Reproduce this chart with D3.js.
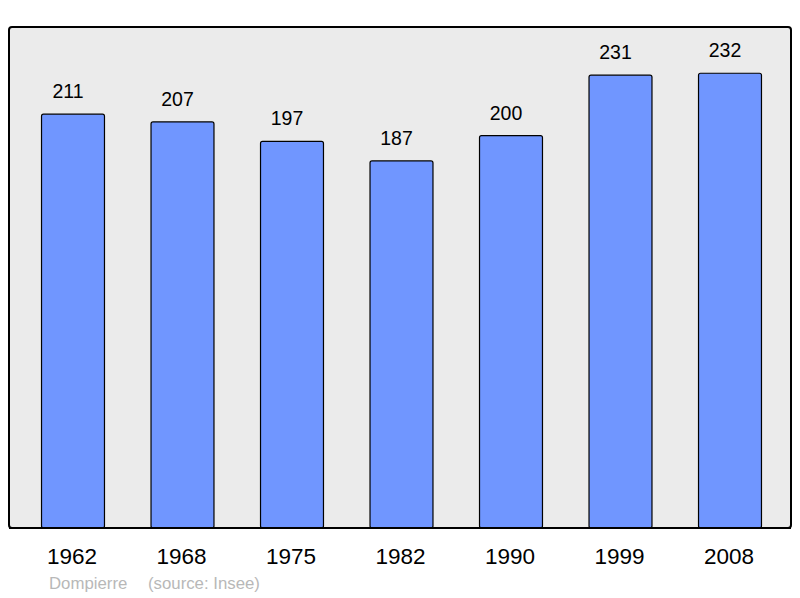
<!DOCTYPE html>
<html><head><meta charset="utf-8">
<script src="https://cdn.jsdelivr.net/npm/d3@7"></script>
<style>body{margin:0;background:#fff}svg{display:block}text{font-family:"Liberation Sans",Arial,sans-serif}</style>
</head><body>
<script>
const years = ["1962","1968","1975","1982","1990","1999","2008"];
const population = [211,207,197,187,200,231,232];
const place = "Dompierre";
const source = "(source: Insee)";

const W = 800, H = 598;
const svg = d3.select("body").append("svg").attr("width", W).attr("height", H);

const frame = {x0: 9, y0: 27, x1: 791, y1: 528};
const x = d3.scaleBand().domain(years).range([18.25, 784.75]).paddingInner(0.425).paddingOuter(0.2125);
const y = d3.scaleLinear().domain([0, 250]).range([525.4, 525.4 - 1.949 * 250]);

svg.append("rect")
  .attr("x", frame.x0).attr("y", frame.y0)
  .attr("width", frame.x1 - frame.x0).attr("height", frame.y1 - frame.y0)
  .attr("rx", 3).attr("fill", "#ebebeb").attr("stroke", "#000").attr("stroke-width", 2);

const data = years.map((yr, i) => ({yr, v: population[i]}));

svg.append("g").selectAll("rect").data(data).join("rect")
  .attr("x", d => x(d.yr)).attr("width", x.bandwidth())
  .attr("y", d => y(d.v)).attr("height", d => frame.y1 - y(d.v))
  .attr("rx", 2)
  .attr("fill", "#7096ff").attr("stroke", "#000").attr("stroke-width", 1.2);

svg.append("line").attr("x1", frame.x0).attr("x2", frame.x1)
  .attr("y1", frame.y1).attr("y2", frame.y1).attr("stroke", "#000").attr("stroke-width", 2);

svg.append("g").selectAll("text").data(data).join("text")
  .attr("x", d => x(d.yr) + x.bandwidth() / 2 - 5).attr("y", d => y(d.v) - 16)
  .attr("text-anchor", "middle").attr("font-size", 19.5).attr("fill", "#000")
  .text(d => d.v);

const xAxis = d3.axisBottom(x).tickSize(0).tickPadding(0);
const ax = svg.append("g").attr("transform", `translate(0,${frame.y1})`).call(xAxis);
ax.select(".domain").remove();
ax.selectAll("text").attr("font-size", 22.5).attr("fill", "#000")
  .attr("font-family", "'Liberation Sans', Arial, sans-serif")
  .attr("dy", null).attr("y", 36).attr("dx", -1);

svg.append("text").attr("x", 49).attr("y", 589).attr("font-size", 16.8).attr("fill", "#b8b8b8").text(place);
svg.append("text").attr("x", 148).attr("y", 589).attr("font-size", 16.8).attr("fill", "#b8b8b8").text(source);
</script>
</body></html>
